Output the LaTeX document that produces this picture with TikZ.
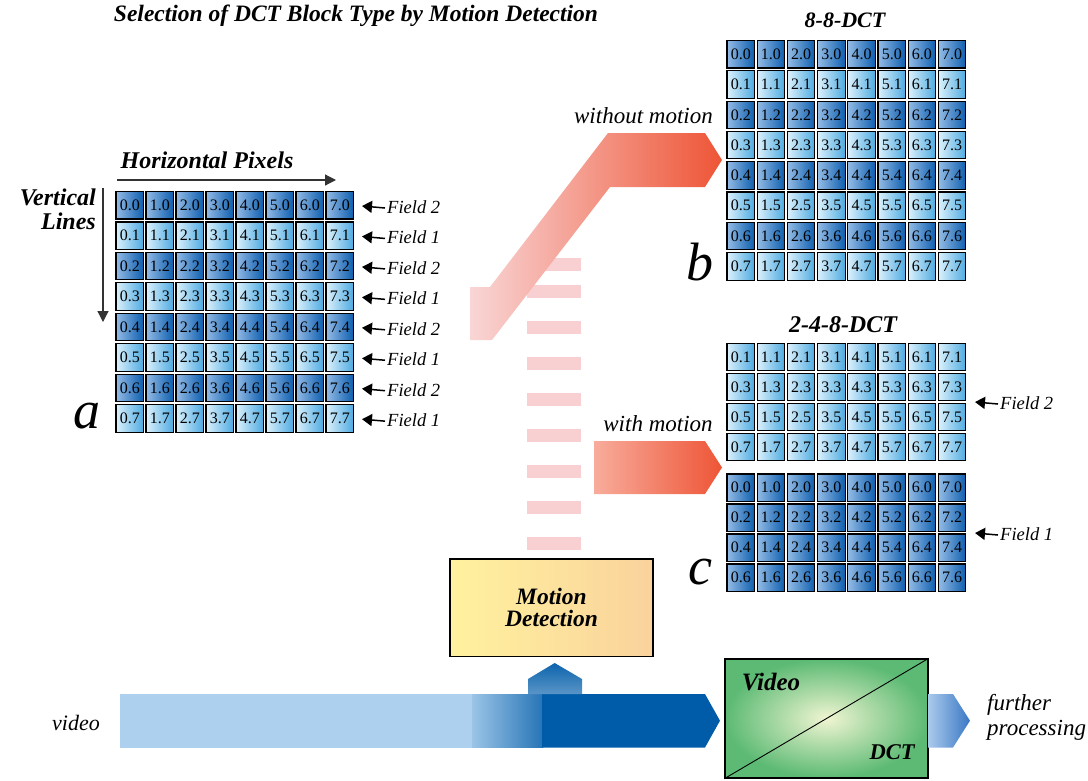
\documentclass[tikz,border=0pt]{standalone}
\usepackage{fontspec}
\setmainfont{Liberation Serif}
\usetikzlibrary{arrows.meta}
\definecolor{darkL}{HTML}{94BCE6}
\definecolor{darkR}{HTML}{0E5EAE}
\definecolor{lightL}{HTML}{DCF1FC}
\definecolor{lightR}{HTML}{4EAAE0}
\definecolor{redL}{HTML}{F9D6D6}
\definecolor{redR}{HTML}{EE5536}
\definecolor{red2L}{HTML}{F8AC9C}
\definecolor{pinkbar}{HTML}{F9D0D2}
\definecolor{vidlight}{HTML}{ACD0EE}
\definecolor{viddark}{HTML}{005CA9}
\definecolor{mdL}{HTML}{FFF29E}
\definecolor{mdR}{HTML}{FAD29C}
\definecolor{dctin}{HTML}{F0F5D2}
\definecolor{dctout}{HTML}{5CBA74}
\definecolor{fpL}{HTML}{AACAEC}
\definecolor{fpR}{HTML}{3A78C4}
\definecolor{axisgray}{HTML}{333333}
\tikzset{
  cell/.style={draw=black, line width=1.1pt, minimum width=27.5pt, minimum height=27.5pt,
    inner sep=0pt, font=\fontsize{16}{16}\selectfont},
  fieldlbl/.style={anchor=west, inner sep=0pt, font=\fontsize{18.5}{18.5}\selectfont\itshape},
  fieldarr/.style={line width=1.5pt, -{Triangle[length=10pt,width=12pt]}},
  bolditl/.style={inner sep=0pt, font=\fontsize{24}{24}\selectfont\bfseries\itshape},
  itl/.style={inner sep=0pt, font=\fontsize{23}{25}\selectfont\itshape},
  bigletter/.style={inner sep=0pt, font=\fontsize{54}{54}\selectfont\itshape},
  axisarr/.style={draw=axisgray, line width=1.2pt, -{Triangle[length=11pt,width=11pt]}},
}
\begin{document}
\begin{tikzpicture}[x=1pt,y=-1pt]
\useasboundingbox (0,0) rectangle (1088,780);

% ---------- title ----------
\node[inner sep=0pt, font=\fontsize{23.5}{23.5}\selectfont\bfseries\itshape] (title) at (356,16)
  {Selection of DCT Block Type by Motion Detection};

% ---------- pink dashed path ----------
\foreach \yy [count=\k] in {258,285,321,357,393,429,465,501,537}
  \fill[pinkbar] (527,\yy) rectangle (581,\yy+13);

% ---------- red arrows ----------
\shade[left color=redL, right color=redR]
  (470,287) -- (490,287) -- (608,133) -- (705,133) -- (722,160) -- (705,187)
  -- (610,187) -- (492,340) -- (470,340) -- cycle;
\shade[left color=red2L, right color=redR]
  (594,441) -- (705,441) -- (722,467.5) -- (705,494) -- (594,494) -- cycle;
\node[itl, anchor=east] (wom) at (713,116) {without motion};
\node[itl] (wm) at (658,424) {with motion};

% ---------- grid a ----------
\foreach \r in {0,...,7}{
  \ifodd\r \colorlet{cl}{lightL}\colorlet{cr}{lightR}\def\fld{Field 1}
  \else \colorlet{cl}{darkL}\colorlet{cr}{darkR}\def\fld{Field 2}\fi
  \foreach \c in {0,...,7}{
    \node[cell, left color=cl, right color=cr] (a-\c-\r)
      at (116+\c*30+13.75, 191.5+\r*30.45+13.75) {\c.\r};
  }
  \node[fieldlbl] (fa\r) at (387, 191.5+\r*30.45+15.5) {\fld};
  \coordinate (fta\r) at (362, 191.5+\r*30.45+14.5);
  \draw[fieldarr] ([xshift=-2pt,yshift=-1pt]fa\r.west) -- (fta\r);
}
\node[bolditl] (hp) at (207,160) {Horizontal Pixels};
\coordinate (hps) at (117,180);
\coordinate (hpe) at (336,180);
\draw[axisarr] (hps) -- (hpe);
\node[bolditl, anchor=north east, align=right] (vl) at (96,189) {Vertical\\Lines};
\coordinate (vls) at (103,188);
\coordinate (vle) at (103,322);
\draw[axisarr] (vls) -- (vle);
\node[bigletter] (la) at (87,416) {a};

% ---------- grid b ----------
\node[bolditl, font=\fontsize{22}{22}\selectfont\bfseries\itshape] (t88) at (845,20) {8-8-DCT};
\foreach \r in {0,...,7}{
  \ifodd\r \colorlet{cl}{lightL}\colorlet{cr}{lightR}
  \else \colorlet{cl}{darkL}\colorlet{cr}{darkR}\fi
  \foreach \c in {0,...,7}{
    \node[cell, left color=cl, right color=cr] (b-\c-\r)
      at (727+\c*30.2+13.75, 40.5+\r*30.3+13.75) {\c.\r};
  }
}
\node[bigletter] (lb) at (700,262) {b};

% ---------- grid c ----------
\node[bolditl] (t248) at (843,325) {2-4-8-DCT};
\foreach \r [count=\i from 0] in {1,3,5,7}{
  \foreach \c in {0,...,7}{
    \node[cell, left color=lightL, right color=lightR] (c-\c-\r)
      at (727+\c*30.2+13.75, 343.3+\i*30+13.75) {\c.\r};
  }
}
\foreach \r [count=\i from 0] in {0,2,4,6}{
  \foreach \c in {0,...,7}{
    \node[cell, left color=darkL, right color=darkR] (c-\c-\r)
      at (727+\c*30.2+13.75, 474+\i*30+13.75) {\c.\r};
  }
}
\node[fieldlbl] (fc2) at (1000,403) {Field 2};
\coordinate (ftc2) at (975,402);
\draw[fieldarr] ([xshift=-2pt,yshift=-1pt]fc2.west) -- (ftc2);
\node[fieldlbl] (fc1) at (1000,534) {Field 1};
\coordinate (ftc1) at (975,533);
\draw[fieldarr] ([xshift=-2pt,yshift=-1pt]fc1.west) -- (ftc1);
\node[bigletter] (lc) at (700,572) {c};

% ---------- motion detection ----------
\node[draw=black, line width=1.4pt, left color=mdL, right color=mdR,
      minimum width=203pt, minimum height=97.5pt, inner sep=0pt, align=center,
      font=\fontsize{23.5}{22}\selectfont\bfseries\itshape] (md) at (551.5,607.8) {Motion\\Detection};

% ---------- video bar ----------
\fill[vidlight] (120,694) rectangle (473,747.5);
\shade[left color=vidlight!90!viddark, right color=viddark!85!white] (472,694) rectangle (543,747.5);
\fill[viddark] (542,694) -- (705,694) -- (720,720.7) -- (705,747.5) -- (542,747.5) -- cycle;
\shade[top color=viddark!95!white, bottom color=viddark!65!white]
  (528,694) -- (528,679) -- (554.7,663) -- (582,679) -- (582,694) -- cycle;
\node[itl, anchor=east, font=\fontsize{22}{22}\selectfont\itshape] (vid) at (100,723) {video};

% ---------- video DCT ----------
\node[draw=black, line width=1.4pt, inner color=dctin, outer color=dctout,
      minimum width=203pt, minimum height=119pt, inner sep=0pt] (dct) at (826.5,718.5) {};
\draw[line width=0.9pt] (dct.south west) -- (dct.north east);
\node[bolditl, font=\fontsize{25}{25}\selectfont\bfseries\itshape] (dv) at (771,682) {Video};
\node[bolditl, font=\fontsize{22.5}{22.5}\selectfont\bfseries\itshape] (dd) at (892,752) {DCT};

% ---------- further processing ----------
\shade[left color=fpL, right color=fpR]
  (928,694) -- (953,694) -- (970,720.7) -- (953,747.5) -- (928,747.5) -- cycle;
\node[itl, anchor=north west, align=left] (fp) at (987,694) {further\\processing};
\end{tikzpicture}
\end{document}
